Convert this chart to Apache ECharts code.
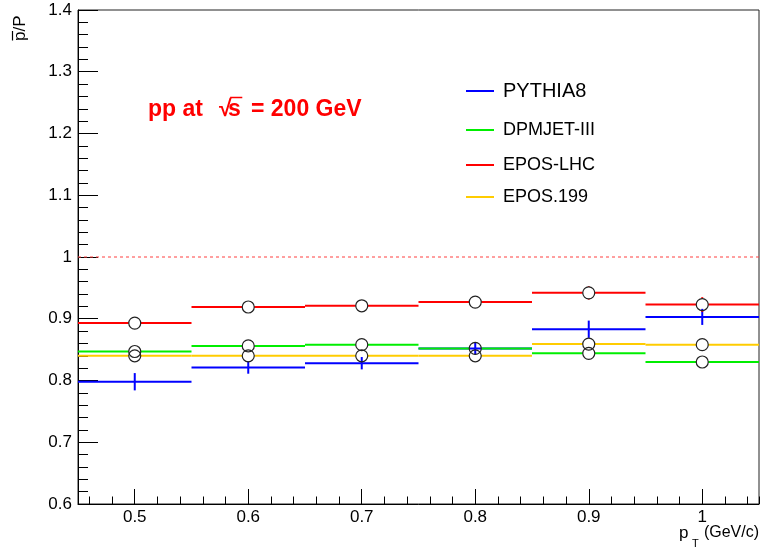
<!DOCTYPE html>
<html>
<head>
<meta charset="utf-8">
<script src="https://cdn.jsdelivr.net/npm/echarts@6/dist/echarts.min.js"></script>
<style>
  html, body { margin: 0; padding: 0; background: #fff; }
  #chart { width: 762px; height: 554px; }
</style>
</head>
<body>
<div id="chart"></div>
<script>
// pT bins in GeV/c: lower edge, upper edge, centre
const binLow    = [0.45, 0.55, 0.65, 0.75, 0.85, 0.95];
const binHigh   = [0.55, 0.65, 0.75, 0.85, 0.95, 1.05];
const binCenter = [0.50, 0.60, 0.70, 0.80, 0.90, 1.00];

// pbar/p ratio per generator, with statistical uncertainty
const pythia8    = [0.798, 0.821, 0.828, 0.852, 0.883, 0.903];
const pythia8Err = [0.014, 0.010, 0.010, 0.010, 0.014, 0.013];
const dpmjet     = [0.847, 0.856, 0.858, 0.852, 0.844, 0.830];
const dpmjetErr  = [0.004, 0.004, 0.004, 0.004, 0.004, 0.004];
const eposLhc    = [0.893, 0.919, 0.921, 0.927, 0.942, 0.923];
const eposLhcErr = [0.009, 0.007, 0.007, 0.007, 0.011, 0.012];
const epos199    = [0.840, 0.840, 0.840, 0.840, 0.859, 0.858];
const epos199Err = [0.004, 0.004, 0.004, 0.004, 0.004, 0.004];

// axis ranges and the unity reference
const xRange = [0.45, 1.05];
const yRange = [0.6, 1.4];
const yStep = 0.1;
const unityLine = 1;

const FONT = '"Liberation Sans", Arial, Helvetica, sans-serif';
const LINE_W = 2;
const MARKER_R = 6;

// horizontal bin line, vertical error bar, optional open circle marker
function histRenderer(color, withMarker) {
  return function (params, api) {
    const lo = api.value(0), hi = api.value(1), xc = api.value(2);
    const y = api.value(3), e = api.value(4);
    const pL = api.coord([lo, y]);
    const pR = api.coord([hi, y]);
    const pC = api.coord([xc, y]);
    const pT = api.coord([xc, y + e]);
    const pB = api.coord([xc, y - e]);
    const gap = withMarker ? MARKER_R : 0;
    const st = { stroke: color, lineWidth: LINE_W, fill: 'none' };
    const children = [
      { type: 'line', shape: { x1: pL[0], y1: pL[1], x2: pC[0] - gap, y2: pC[1] }, style: st },
      { type: 'line', shape: { x1: pC[0] + gap, y1: pC[1], x2: pR[0], y2: pR[1] }, style: st }
    ];
    if (pC[1] - pT[1] > gap) {
      children.push({ type: 'line', shape: { x1: pT[0], y1: pT[1], x2: pC[0], y2: pC[1] - gap }, style: st });
      children.push({ type: 'line', shape: { x1: pC[0], y1: pC[1] + gap, x2: pB[0], y2: pB[1] }, style: st });
    }
    if (withMarker) {
      children.push({
        type: 'circle',
        shape: { cx: pC[0], cy: pC[1], r: MARKER_R },
        style: { fill: 'none', stroke: '#222', lineWidth: 1.2 }
      });
    }
    return { type: 'group', children };
  };
}

function histSeries(name, color, vals, errs, withMarker, z) {
  return {
    type: 'custom',
    name,
    xAxisIndex: 0,
    yAxisIndex: 0,
    z,
    silent: true,
    clip: false,
    itemStyle: { color },
    encode: { x: [0, 1, 2], y: [3] },
    data: binCenter.map((c, i) => [binLow[i], binHigh[i], c, vals[i], errs[i]]),
    renderItem: histRenderer(color, withMarker)
  };
}

function legendBox(name, centerY, fontSize) {
  const lh = fontSize + 4;
  return {
    data: [name],
    left: 466,
    top: centerY - lh / 2,
    padding: 0,
    icon: 'rect',
    itemWidth: 28,
    itemHeight: 2,
    selectedMode: false,
    textStyle: { fontSize, lineHeight: lh, color: '#000', fontFamily: FONT, padding: [0, 0, 0, 4] }
  };
}

const titleFont = 'bold 23px ' + FONT;
const meas = document.createElement('canvas').getContext('2d');
meas.font = titleFont;
const sqrtX = 219, sX = 228;
const sqrtW = meas.measureText('\u221A').width;
const sW = meas.measureText('s').width;

const gridBox = { left: 78, right: 3, top: 10, bottom: 50 };

const chart = echarts.init(document.getElementById('chart'), null, { renderer: 'canvas' });
chart.setOption({
  animation: false,
  backgroundColor: '#fff',
  grid: [
    Object.assign({ show: true, borderColor: '#222', borderWidth: 1, backgroundColor: 'transparent' }, gridBox),
    Object.assign({ show: false }, gridBox)
  ],
  xAxis: [
    {
      gridIndex: 0, type: 'value', min: xRange[0], max: xRange[1],
      minInterval: 0.1, maxInterval: 0.1, splitNumber: 6,
      axisLine: { lineStyle: { color: '#000', width: 1 } },
      axisTick: { inside: true, length: 15, lineStyle: { color: '#000', width: 1 } },
      axisLabel: {
        fontSize: 17, color: '#000', fontFamily: FONT, margin: 5,
        showMinLabel: false, showMaxLabel: false,
        formatter: v => (Math.abs(v * 10 - Math.round(v * 10)) < 1e-6 ? String(+v.toFixed(1)) : '')
      },
      splitLine: { show: false }
    },
    {
      gridIndex: 1, type: 'value', min: xRange[0], max: xRange[1],
      minInterval: 0.02, maxInterval: 0.02, splitNumber: 30,
      axisLine: { show: false },
      axisTick: { inside: true, length: 7.5, lineStyle: { color: '#000', width: 1 } },
      axisLabel: { show: false },
      splitLine: { show: false }
    }
  ],
  yAxis: [
    {
      gridIndex: 0, type: 'value', min: yRange[0], max: yRange[1], interval: yStep,
      axisLine: { lineStyle: { color: '#000', width: 1 } },
      axisTick: { inside: true, length: 20, lineStyle: { color: '#000', width: 1 } },
      minorTick: { show: true, splitNumber: 5, length: 10, lineStyle: { color: '#000', width: 1 } },
      axisLabel: { fontSize: 17, color: '#000', fontFamily: FONT, margin: 6 },
      splitLine: { show: false },
      minorSplitLine: { show: false }
    },
    { gridIndex: 1, type: 'value', min: 0, max: 1, show: false }
  ],
  legend: [
    legendBox('PYTHIA8', 91, 20),
    legendBox('DPMJET-III', 130, 18),
    legendBox('EPOS-LHC', 165, 18),
    legendBox('EPOS.199', 197, 18)
  ],
  series: [
    {
      type: 'line', xAxisIndex: 0, yAxisIndex: 0, silent: true, z: 1,
      data: xRange.map(x => [x, unityLine]),
      symbol: 'none',
      lineStyle: { color: '#ff4040', width: 1, type: [3, 3] }
    },
    histSeries('PYTHIA8', '#0000ff', pythia8, pythia8Err, false, 2),
    histSeries('EPOS-LHC', '#ff0000', eposLhc, eposLhcErr, true, 3),
    histSeries('DPMJET-III', '#00ee00', dpmjet, dpmjetErr, true, 4),
    histSeries('EPOS.199', '#ffcc00', epos199, epos199Err, true, 5)
  ],
  graphic: [
    // y-axis title: pbar/P
    {
      type: 'group', x: 20, y: 41, rotation: Math.PI / 2, silent: true,
      children: [
        { type: 'text', x: 0, y: 0, style: { text: 'p/P', font: '17px ' + FONT, fill: '#000', align: 'left', verticalAlign: 'middle' } },
        { type: 'line', shape: { x1: 0.5, y1: -7.5, x2: 10, y2: -7.5 }, style: { stroke: '#000', lineWidth: 1.2 } }
      ]
    },
    // x-axis title: p_T (GeV/c)
    { type: 'text', x: 679, y: 533, silent: true, style: { text: 'p', font: '17px ' + FONT, fill: '#000', align: 'left', verticalAlign: 'middle' } },
    { type: 'text', x: 692, y: 544, silent: true, style: { text: 'T', font: '11px ' + FONT, fill: '#000', align: 'left', verticalAlign: 'middle' } },
    { type: 'text', x: 759, y: 533, silent: true, style: { text: '(GeV/c)', font: '16px ' + FONT, fill: '#000', align: 'right', verticalAlign: 'middle' } },
    // collision system label
    { type: 'text', x: 148, y: 110, silent: true, style: { text: 'pp at', font: titleFont, fill: '#ff0000', align: 'left', verticalAlign: 'middle' } },
    { type: 'text', x: sqrtX, y: 110, silent: true, style: { text: '\u221A', font: titleFont, fill: '#ff0000', align: 'left', verticalAlign: 'middle' } },
    { type: 'text', x: sX, y: 110, silent: true, style: { text: 's', font: titleFont, fill: '#ff0000', align: 'left', verticalAlign: 'middle' } },
    { type: 'line', silent: true, shape: { x1: sqrtX + sqrtW - 1.5, y1: 97.5, x2: sX + sW + 1.5, y2: 97.5 }, style: { stroke: '#ff0000', lineWidth: 1.5 } },
    { type: 'text', x: 251, y: 110, silent: true, style: { text: '= 200 GeV', font: titleFont, fill: '#ff0000', align: 'left', verticalAlign: 'middle' } }
  ]
});
</script>
</body>
</html>
